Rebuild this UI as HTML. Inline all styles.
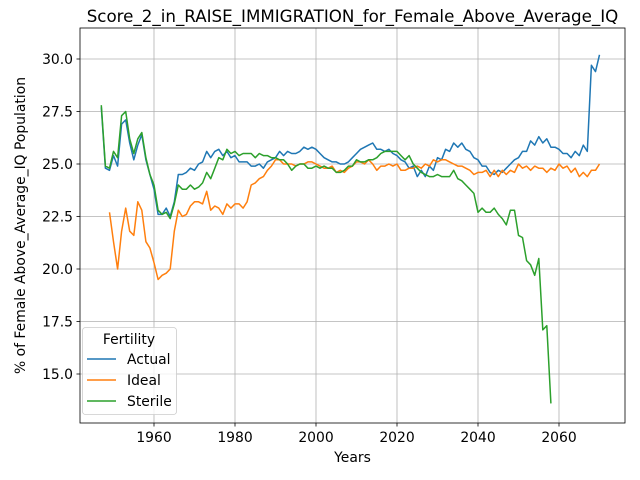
<!DOCTYPE html>
<html><head><meta charset="utf-8"><style>
body{margin:0;background:#fff;}
svg{display:block;font-family:"DejaVu Sans","Liberation Sans",sans-serif;}
</style></head><body>
<svg id="chart" width="640" height="480" xmlns="http://www.w3.org/2000/svg"></svg>
<script>
const actualYears=[1947,2070];
const actualValues=[27.7,24.8,24.7,25.4,24.9,26.9,27.1,26.0,25.2,25.9,26.4,25.2,24.5,23.8,22.6,22.6,22.9,22.5,23.2,24.5,24.5,24.6,24.8,24.7,25.0,25.1,25.6,25.3,25.6,25.7,25.4,25.6,25.3,25.4,25.1,25.1,25.1,24.9,24.9,25.0,24.8,25.1,25.2,25.3,25.6,25.4,25.6,25.5,25.5,25.6,25.8,25.7,25.8,25.7,25.5,25.3,25.2,25.1,25.1,25.0,25.0,25.1,25.3,25.5,25.7,25.8,25.9,26.0,25.7,25.7,25.6,25.7,25.5,25.4,25.2,25.1,24.8,24.9,24.4,24.7,24.4,24.9,24.7,25.3,25.2,25.7,25.6,26.0,25.8,26.0,25.7,25.6,25.3,25.2,24.9,24.9,24.6,24.5,24.7,24.6,24.8,25.0,25.2,25.3,25.6,25.6,26.1,25.9,26.3,26.0,26.2,25.8,25.8,25.7,25.5,25.5,25.3,25.6,25.4,25.9,25.6,29.7,29.4,30.2];
const idealStart=1949;
const idealValues=[22.7,21.3,20.0,21.8,22.9,21.8,21.6,23.2,22.8,21.3,21.0,20.3,19.5,19.7,19.8,20.0,21.8,22.8,22.5,22.6,23.0,23.2,23.2,23.1,23.7,22.8,23.0,22.9,22.6,23.1,22.9,23.1,23.1,22.9,23.2,24.0,24.1,24.3,24.4,24.7,24.9,25.2,25.2,25.0,25.0,25.0,24.9,25.0,25.0,25.1,25.1,25.0,24.9,24.8,24.8,24.9,24.6,24.7,24.6,24.8,24.9,25.1,25.1,25.0,25.2,25.0,24.7,24.9,24.9,25.0,24.9,25.0,24.7,24.7,24.8,24.8,24.9,24.8,25.0,24.9,25.2,25.1,25.2,25.2,25.1,25.0,24.9,24.9,24.8,24.7,24.5,24.6,24.6,24.7,24.4,24.7,24.4,24.7,24.5,24.7,24.6,25.0,24.8,24.9,24.7,24.9,24.8,24.8,24.6,24.8,24.7,25.0,24.8,24.9,24.6,24.8,24.4,24.6,24.4,24.7,24.7,25.0];
const sterileStart=1947;
const sterileValues=[27.8,24.9,24.8,25.6,25.3,27.3,27.5,26.2,25.5,26.2,26.5,25.3,24.5,24.0,22.8,22.6,22.7,22.4,23.1,24.0,23.8,23.8,24.0,23.8,23.9,24.1,24.6,24.3,24.8,25.3,25.2,25.7,25.5,25.6,25.4,25.5,25.5,25.5,25.3,25.5,25.4,25.4,25.3,25.3,25.2,25.2,25.0,24.7,24.9,25.0,25.0,24.8,24.8,24.9,24.8,24.9,24.8,24.8,24.6,24.6,24.7,24.9,24.9,25.2,25.1,25.1,25.2,25.2,25.3,25.5,25.6,25.6,25.6,25.6,25.4,25.2,25.4,25.0,24.8,24.6,24.5,24.4,24.4,24.5,24.4,24.4,24.4,24.7,24.3,24.2,24.0,23.8,23.6,22.7,22.9,22.7,22.7,22.9,22.6,22.4,22.1,22.8,22.8,21.6,21.5,20.4,20.2,19.7,20.5,17.1,17.3,13.6];
const xTicks=[1960,1980,2000,2020,2040,2060];
const yTicks=[15.0,17.5,20.0,22.5,25.0,27.5,30.0];
const seriesNames=["Actual","Ideal","Sterile"];
const colors=["#1f77b4","#ff7f0e","#2ca02c"];

const L=80,R=625,T=28,B=423;
const xs=y=>154+(y-1960)*4.05;
const ys=v=>59+(30-v)*21;
const svg=document.getElementById('chart');
const NS="http://www.w3.org/2000/svg";
function mk(tag,attrs,parent){const e=document.createElementNS(NS,tag);for(const k in attrs)e.setAttribute(k,attrs[k]);(parent||svg).appendChild(e);return e;}

xTicks.forEach(t=>{
  const g=mk('line',{x1:xs(t),x2:xs(t),y1:T,y2:B,stroke:'#b0b0b0','stroke-width':0.8});
  
  
  mk('line',{x1:xs(t),x2:xs(t),y1:B,y2:B+3.5,stroke:'#000','stroke-width':0.8});
  const tx=mk('text',{x:xs(t),y:B+19,'text-anchor':'middle','font-size':13.9,fill:'#000'});
  tx.textContent=t;
  
  
});
yTicks.forEach(t=>{
  const g=mk('line',{x1:L,x2:R,y1:ys(t),y2:ys(t),stroke:'#b0b0b0','stroke-width':0.8});
  
  
  mk('line',{x1:L-3.5,x2:L,y1:ys(t),y2:ys(t),stroke:'#000','stroke-width':0.8});
  const tx=mk('text',{x:L-7,y:ys(t)+5,'text-anchor':'end','font-size':13.9,fill:'#000'});
  tx.textContent=t.toFixed(1);
  
  
});

function line(start,vals,color,name){
  const pts=vals.map((v,i)=>xs(start+i).toFixed(1)+','+ys(v).toFixed(1)).join(' ');
  const p=mk('polyline',{points:pts,fill:'none',stroke:color,'stroke-width':1.5,'stroke-linejoin':'round'});
  
  
}
line(actualYears[0],actualValues,colors[0],'actual-line');
line(idealStart,idealValues,colors[1],'ideal-line');
line(sterileStart,sterileValues,colors[2],'sterile-line');

const frame=mk('rect',{x:L,y:T,width:R-L,height:B-T,fill:'none',stroke:'#000','stroke-width':0.8});



const title=mk('text',{x:(L+R)/2,y:T-6,'text-anchor':'middle','font-size':16.7,fill:'#000'});
title.textContent='Score_2_in_RAISE_IMMIGRATION_for_Female_Above_Average_IQ';


const xl=mk('text',{x:(L+R)/2,y:462,'text-anchor':'middle','font-size':13.9,fill:'#000'});
xl.textContent='Years';


const yl=mk('text',{x:0,y:0,'text-anchor':'middle','font-size':13.9,fill:'#000',transform:'translate(25,'+((T+B)/2)+') rotate(-90)'});
yl.textContent='% of Female Above_Average_IQ Population';



const lg=mk('g',{});


mk('rect',{x:82.5,y:327.5,width:94,height:87,rx:3,fill:'#fff','fill-opacity':0.8,stroke:'#ccc','stroke-width':0.8},lg);
const lt=mk('text',{x:129,y:344,'text-anchor':'middle','font-size':13.9,fill:'#000'},lg);
lt.textContent='Fertility';


seriesNames.forEach((n,i)=>{
  const yy=359+i*21;
  const e=mk('g',{},lg);
  
  
  mk('line',{x1:87,x2:116,y1:yy,y2:yy,stroke:colors[i],'stroke-width':1.5},e);
  const t=mk('text',{x:127,y:yy+5,'font-size':13.9,fill:'#000'},e);
  t.textContent=n;
});
</script>
</body></html>
